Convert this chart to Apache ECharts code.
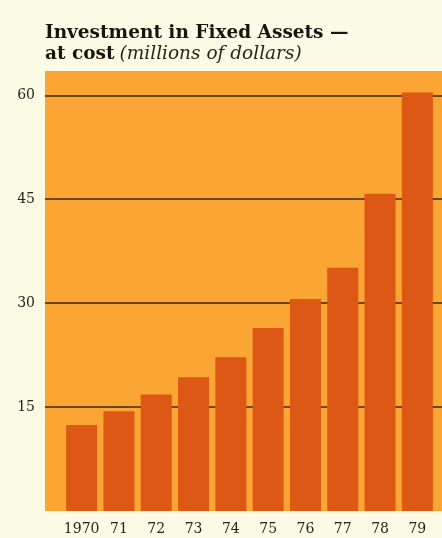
<!DOCTYPE html>
<html>
<head>
<meta charset="utf-8">
<script src="https://cdn.jsdelivr.net/npm/echarts@6/dist/echarts.min.js"></script>
<style>
  html, body { margin: 0; padding: 0; background: #fcfbe6; }
  #chart { width: 442px; height: 538px; }
</style>
</head>
<body>
<div id="chart"></div>
<script>
// Investment in fixed assets, at cost (millions of dollars)
const years = ['1970', '71', '72', '73', '74', '75', '76', '77', '78', '79'];
const investment = [12.4, 14.4, 16.8, 19.3, 22.2, 26.4, 30.6, 35.1, 45.8, 60.4];
const yTicks = [15, 30, 45, 60];

const Y_MAX = 63.5;
const SERIF = '"DejaVu Serif", "Liberation Serif", serif';

const chart = echarts.init(document.getElementById('chart'), null, { renderer: 'canvas' });

chart.setOption({
  backgroundColor: '#fcfbe6',
  animation: false,
  title: {
    text: '{b|Investment in Fixed Assets —}\n{b|at cost} {i|(millions of dollars)}',
    left: 45,
    top: 23,
    padding: 0,
    textStyle: {
      rich: {
        b: { fontFamily: SERIF, fontWeight: 'bold', fontSize: 18.5, color: '#1a1410', lineHeight: 21 },
        i: { fontFamily: SERIF, fontWeight: 'normal', fontStyle: 'italic', fontSize: 18.5, color: '#2a221c', lineHeight: 21 }
      }
    }
  },
  grid: [
    // orange panel with value gridlines
    { left: 45, right: 0, top: 71, bottom: 27, show: true, backgroundColor: '#fba535', borderWidth: 0 },
    // bar area
    { left: 63, right: 6, top: 71, bottom: 27 }
  ],
  xAxis: [
    { gridIndex: 0, type: 'value', min: 0, max: 1, show: false },
    {
      gridIndex: 1,
      type: 'category',
      data: years,
      axisLine: { show: false },
      axisTick: { show: false },
      axisLabel: { interval: 0, fontFamily: SERIF, fontSize: 14, color: '#2a221c', margin: 11 }
    }
  ],
  yAxis: [
    {
      gridIndex: 0,
      type: 'value',
      min: 0,
      max: Y_MAX,
      interval: 15,
      axisLine: { show: false },
      axisTick: { show: false },
      axisLabel: {
        fontFamily: SERIF, fontSize: 14, color: '#2a221c', margin: 10,
        showMinLabel: false, showMaxLabel: false,
        formatter: v => (yTicks.includes(v) ? String(v) : '')
      },
      splitLine: {
        show: true, showMinLine: false, showMaxLine: false,
        lineStyle: { color: '#3b2812', width: 1.5 }
      }
    },
    { gridIndex: 1, type: 'value', min: 0, max: Y_MAX, show: false, splitLine: { show: false } }
  ],
  series: [
    {
      type: 'bar',
      xAxisIndex: 1,
      yAxisIndex: 1,
      data: investment,
      barWidth: 31,
      itemStyle: { color: '#dc5814' },
      z: 3
    }
  ]
});
</script>
</body>
</html>
